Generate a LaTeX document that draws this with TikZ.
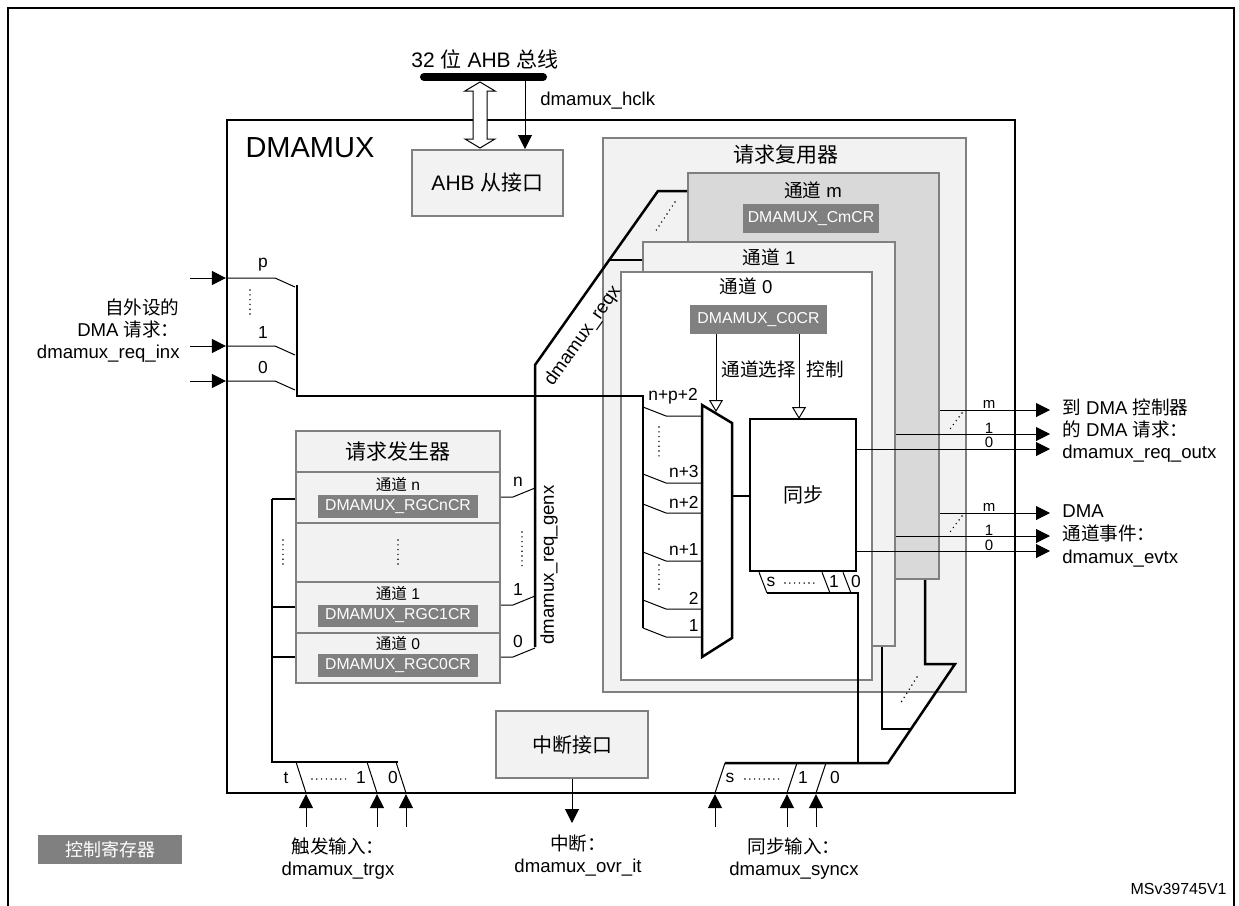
\documentclass[tikz,border=0pt]{standalone}
\usepackage{fontspec}
\setmainfont{Liberation Sans}
\newfontfamily\cjk{Noto Sans CJK SC}
\usetikzlibrary{arrows.meta, positioning, calc, fit}
\definecolor{grayA}{HTML}{808080}
\definecolor{grayB}{HTML}{F2F2F2}
\definecolor{grayC}{HTML}{D9D9D9}
\newcommand{\zh}[1]{{\cjk #1}}
\tikzset{
  outerbox/.style={draw, line width=1.1pt, inner sep=0pt},
  gbox/.style={draw=grayA, fill=grayB, line width=1pt, inner sep=0pt},
  reg/.style={fill=grayA, inner sep=0pt},
  regname/.style={text=white, inner sep=0pt, font=\fontsize{7.9}{9}\selectfont},
  bus/.style={line width=1.25pt},
  wire/.style={line width=0.5pt},
  sig/.style={-{Triangle[length=7pt,width=7pt]}, line width=0.5pt},
  ctl/.style={-{Triangle[open,length=6pt,width=7pt,fill=white]}, line width=0.5pt},
  lbl/.style={font=\fontsize{9.3}{11}\selectfont, inner sep=0pt},
  lblbig/.style={font=\fontsize{10.5}{12}\selectfont, inner sep=0pt},
  idx/.style={font=\fontsize{8.7}{10}\selectfont, inner sep=0pt},
  idxs/.style={font=\fontsize{7.5}{9}\selectfont, inner sep=0pt},
  regtxt/.style={font=\fontsize{7.8}{9}\selectfont, inner sep=0pt},
  dotline/.style={line width=0.8pt, line cap=round, dash pattern=on 0pt off 2.4pt}
}
\begin{document}
\begin{tikzpicture}[x=0.5pt, y=-0.5pt]
  \useasboundingbox (0,0) rectangle (1239,906);
  % page frame
  \draw[line width=0.8pt] (8,906) -- (8,8) -- (1234,8) -- (1234,906);

  % DMAMUX block
  \node[outerbox, fit={(227,120)(1015,793)}] (dmamux) {};
  \node[font=\fontsize{14.5}{16}\selectfont, inner sep=0pt] (dmxtitle) at (310,148) {DMAMUX};

  % AHB bus
  \coordinate (busL) at (424,77);
  \coordinate (busR) at (543,77);
  \draw[line width=4pt, line cap=round] (busL) -- (busR);
  \node[lblbig] (bustxt) at (485,59) {32 \zh{位} AHB \zh{总线}};
  \node[gbox, fit={(412,150)(563,216)}] (ahb) {};
  \node[lblbig] at (ahb) {AHB \zh{从接口}};
  \coordinate (hclk) at (525,77);
  \draw[sig] (hclk) -- (hclk |- ahb.north);
  \node[lbl, anchor=west] (hclktxt) at (540,101) {dmamux\_hclk};
  \draw[line width=0.5pt, fill=white] (480,82) -- (495,91) -- (487,91) -- (487,139) -- (495,139)
    -- (480,148) -- (465,139) -- (473,139) -- (473,91) -- (465,91) -- cycle;

  % request multiplexer
  \node[gbox, fit={(603,138)(966,692)}] (rmux) {};
  \node[lblbig] at (786,155) {\zh{请求复用器}};
  \node[gbox, fill=grayC, fit={(688,173)(939,579)}] (chm) {};
  \node[gbox, fit={(643,242)(895,646)}] (ch1) {};
  \node[gbox, fill=white, fit={(621,272)(872,680)}] (ch0) {};
  \node[lbl] at (813,190) {\zh{通道} m};
  \node[reg, fit={(743,204)(879,233)}] (cmcr) {};
  \node[regname] at (cmcr) {DMAMUX\_CmCR};
  \node[lbl] at (769,257) {\zh{通道} 1};
  \node[lbl] at (746,286) {\zh{通道} 0};
  \node[reg, fit={(690,305)(827,334)}] (c0cr) {};
  \node[regname] at (c0cr) {DMAMUX\_C0CR};

  % mux inputs
  \coordinate (minT) at (643,396);
  \coordinate (minB) at (643,628);
  \foreach \y in {407,474,504,552,600,628}
    \draw[wire] (643,\y) -- ++(23,9) -- (702,\y+9);
  \foreach \y/\lab in {474/n+3, 504/n+2, 552/n+1, 600/2, 628/1}
    \node[idx, anchor=east] at (699,\y-2) {\lab};
  \node[idx, anchor=west] at (648,396) {n+p+2};
  \draw[dotline] (659,427) -- (659,459);
  \draw[dotline] (659,565) -- (659,590);

  % mux and synchronization
  \draw[bus, fill=white] (702,405) -- (732,423) -- (732,638) -- (702,657) -- cycle;
  \node[draw, bus, fill=white, inner sep=0pt, fit={(750,419)(856,571)}] (sync) {};
  \node[font=\fontsize{10}{12}\selectfont, inner sep=0pt] at (sync) {\zh{同步}};
  \coordinate (muxout) at (732,496);
  \draw[bus] (muxout) -- (muxout -| sync.west);
  \coordinate (selin) at (716,412);
  \coordinate (ctlin) at (799,419);
  \draw[ctl] (c0cr.south -| selin) -- (selin);
  \draw[ctl] (c0cr.south -| ctlin) -- (ctlin);
  \node[lbl, anchor=west] at (721,369) {\zh{通道选择}};
  \node[lbl, anchor=west] at (806,369) {\zh{控制}};

  % peripheral requests
  \foreach \y/\lab in {278/p, 346/1, 381/0} {
    \draw[sig] (190,\y) -- (dmamux.west |- 0,\y);
    \draw[wire] (dmamux.west |- 0,\y) -- (275,\y) -- (295,\y+9);
    \node[idx] at (263,\y-13) {\lab};
  }
  \draw[dotline] (250,290) -- (250,317);
  \coordinate (rinT) at (297,285);
  \coordinate (rinB) at (297,396);
  \draw[bus] (rinT) -- (rinB) -- (minT) -- (minB);
  \node[lbl, align=right, anchor=east] at (180,331)
    {\zh{自外设的}\\DMA \zh{请求：}\\dmamux\_req\_inx};

  % request generator
  \node[gbox, fit={(296,431)(500,683)}] (rgen) {};
  \foreach \y in {472,523,582,633}
    \draw[draw=grayA, line width=0.8pt] (rgen.west |- 0,\y) -- (rgen.east |- 0,\y);
  \node[lblbig] at (398,452) {\zh{请求发生器}};
  \node[regtxt] at (398,484) {\zh{通道} n};
  \node[reg, fit={(318,495)(478,518)}] (rgcn) {};
  \node[regname] at (rgcn) {DMAMUX\_RGCnCR};
  \draw[dotline] (398,540) -- (398,567);
  \node[regtxt] at (398,593) {\zh{通道} 1};
  \node[reg, fit={(318,605)(478,627)}] (rgc1) {};
  \node[regname] at (rgc1) {DMAMUX\_RGC1CR};
  \node[regtxt] at (398,643) {\zh{通道} 0};
  \node[reg, fit={(318,654)(478,677)}] (rgc0) {};
  \node[regname] at (rgc0) {DMAMUX\_RGC0CR};
  \foreach \y/\lab in {497/n, 605/1, 657/0} {
    \draw[wire] (rgen.east |- 0,\y) -- (513,\y) -- (535,\y-9);
    \node[idx] at (518,\y-15) {\lab};
  }
  \draw[dotline] (522,532) -- (522,568);
  \node[lbl, rotate=90] at (549,565) {dmamux\_req\_genx};

  % reqx bus to the channels
  \coordinate (gxB) at (535,647);
  \coordinate (gxT) at (535,365);
  \coordinate (gxK) at (658,191);
  \draw[bus] (gxB) -- (gxT) -- (gxK) -- (gxK -| chm.west);
  \coordinate (gx1) at ($(gxT)!0.603!(gxK)$);
  \draw[bus] (gx1) -- (gx1 -| ch1.west);
  \draw[dotline] (675,202) -- (655,232);
  \node[lbl, rotate=54.7] at (583,336) {dmamux\_reqx};

  % trigger inputs
  \coordinate (tgT) at (272,499);
  \coordinate (tgC) at (272,762);
  \coordinate (tgR) at (398,762);
  \draw[bus] (tgT) -- (tgC) -- (tgR);
  \foreach \y in {499,607,657}
    \draw[bus] (272,\y) -- (rgen.west |- 0,\y);
  \draw[dotline] (283,540) -- (283,567);
  \foreach \x in {296,367,396} {
    \draw[wire] (\x,762) -- (\x+10,793);
    \draw[sig] (\x+10,827) -- (dmamux.south -| \x+10,0);
  }
  \node[idx] at (286,778) {t};
  \draw[dotline] (312,779) -- (348,779);
  \node[idx] at (361,778) {1};
  \node[idx] at (393,778) {0};
  \node[lbl, align=center] at (338,859) {\zh{触发输入：}\\dmamux\_trgx};

  % interrupt interface
  \node[gbox, fit={(496,711)(648,778)}] (irq) {};
  \node[font=\fontsize{10}{12}\selectfont, inner sep=0pt] at (irq) {\zh{中断接口}};
  \coordinate (irqout) at (572,823);
  \draw[sig] (irq.south) -- (irqout);
  \node[lbl, align=center] at (578,856) {\zh{中断：}\\dmamux\_ovr\_it};

  % synchronization inputs
  \coordinate (syL) at (725,763);
  \coordinate (syR) at (888,763);
  \coordinate (syK) at (955,664);
  \draw[bus] (syL) -- (syR) -- (syK) -- (925,664) -- (chm.south -| 925,0);
  \draw[bus] (ch1.south -| 882,0) -- (882,729) -- (910,729);
  \draw[bus] (767,593) -- (858,593) -- (858,763);
  \foreach \x in {759,822,843}
    \draw[wire] (sync.south -| \x,0) -- (\x+8,593);
  \node[idx] at (771,582) {s};
  \draw[dotline] (785,583) -- (817,583);
  \node[idx] at (834,582) {1};
  \node[idx] at (856,582) {0};
  \draw[dotline] (917,677) -- (900,704);
  \foreach \x in {725,797,826} {
    \draw[wire] (\x,763) -- (\x-10,793);
    \draw[sig] (\x-10,827) -- (dmamux.south -| \x-10,0);
  }
  \node[idx] at (730,778) {s};
  \draw[dotline] (745,779) -- (782,779);
  \node[idx] at (803,778) {1};
  \node[idx] at (835,778) {0};
  \node[lbl, align=center] at (794,859) {\zh{同步输入：}\\dmamux\_syncx};

  % outputs
  \foreach \y/\nd in {410/chm, 434/ch1, 449/sync, 513/chm, 536/ch1, 551/sync}
    \draw[sig] (\nd.east |- 0,\y) -- (1050,\y);
  \foreach \y/\lab in {404/m, 428/1, 442/0, 507/m, 530/1, 545/0}
    \node[idxs] at (989,\y) {\lab};
  \draw[dotline] (962,413) -- (950,429);
  \draw[dotline] (962,516) -- (950,532);
  \node[lbl, align=left, anchor=west] at (1062,431)
    {\zh{到} DMA \zh{控制器}\\\zh{的} DMA \zh{请求：}\\dmamux\_req\_outx};
  \node[lbl, align=left, anchor=west, font=\fontsize{9.3}{11.7}\selectfont] at (1062,536)
    {DMA\\\zh{通道事件：}\\dmamux\_evtx};

  % legend
  \node[reg, fit={(38,835)(182,864)}] (legend) {};
  \node[regname, font=\fontsize{9}{11}\selectfont] at (legend) {\zh{控制寄存器}};
  \node[font=\fontsize{8}{10}\selectfont, inner sep=0pt, anchor=east] (docid) at (1227,889) {MSv39745V1};
\end{tikzpicture}
\end{document}
